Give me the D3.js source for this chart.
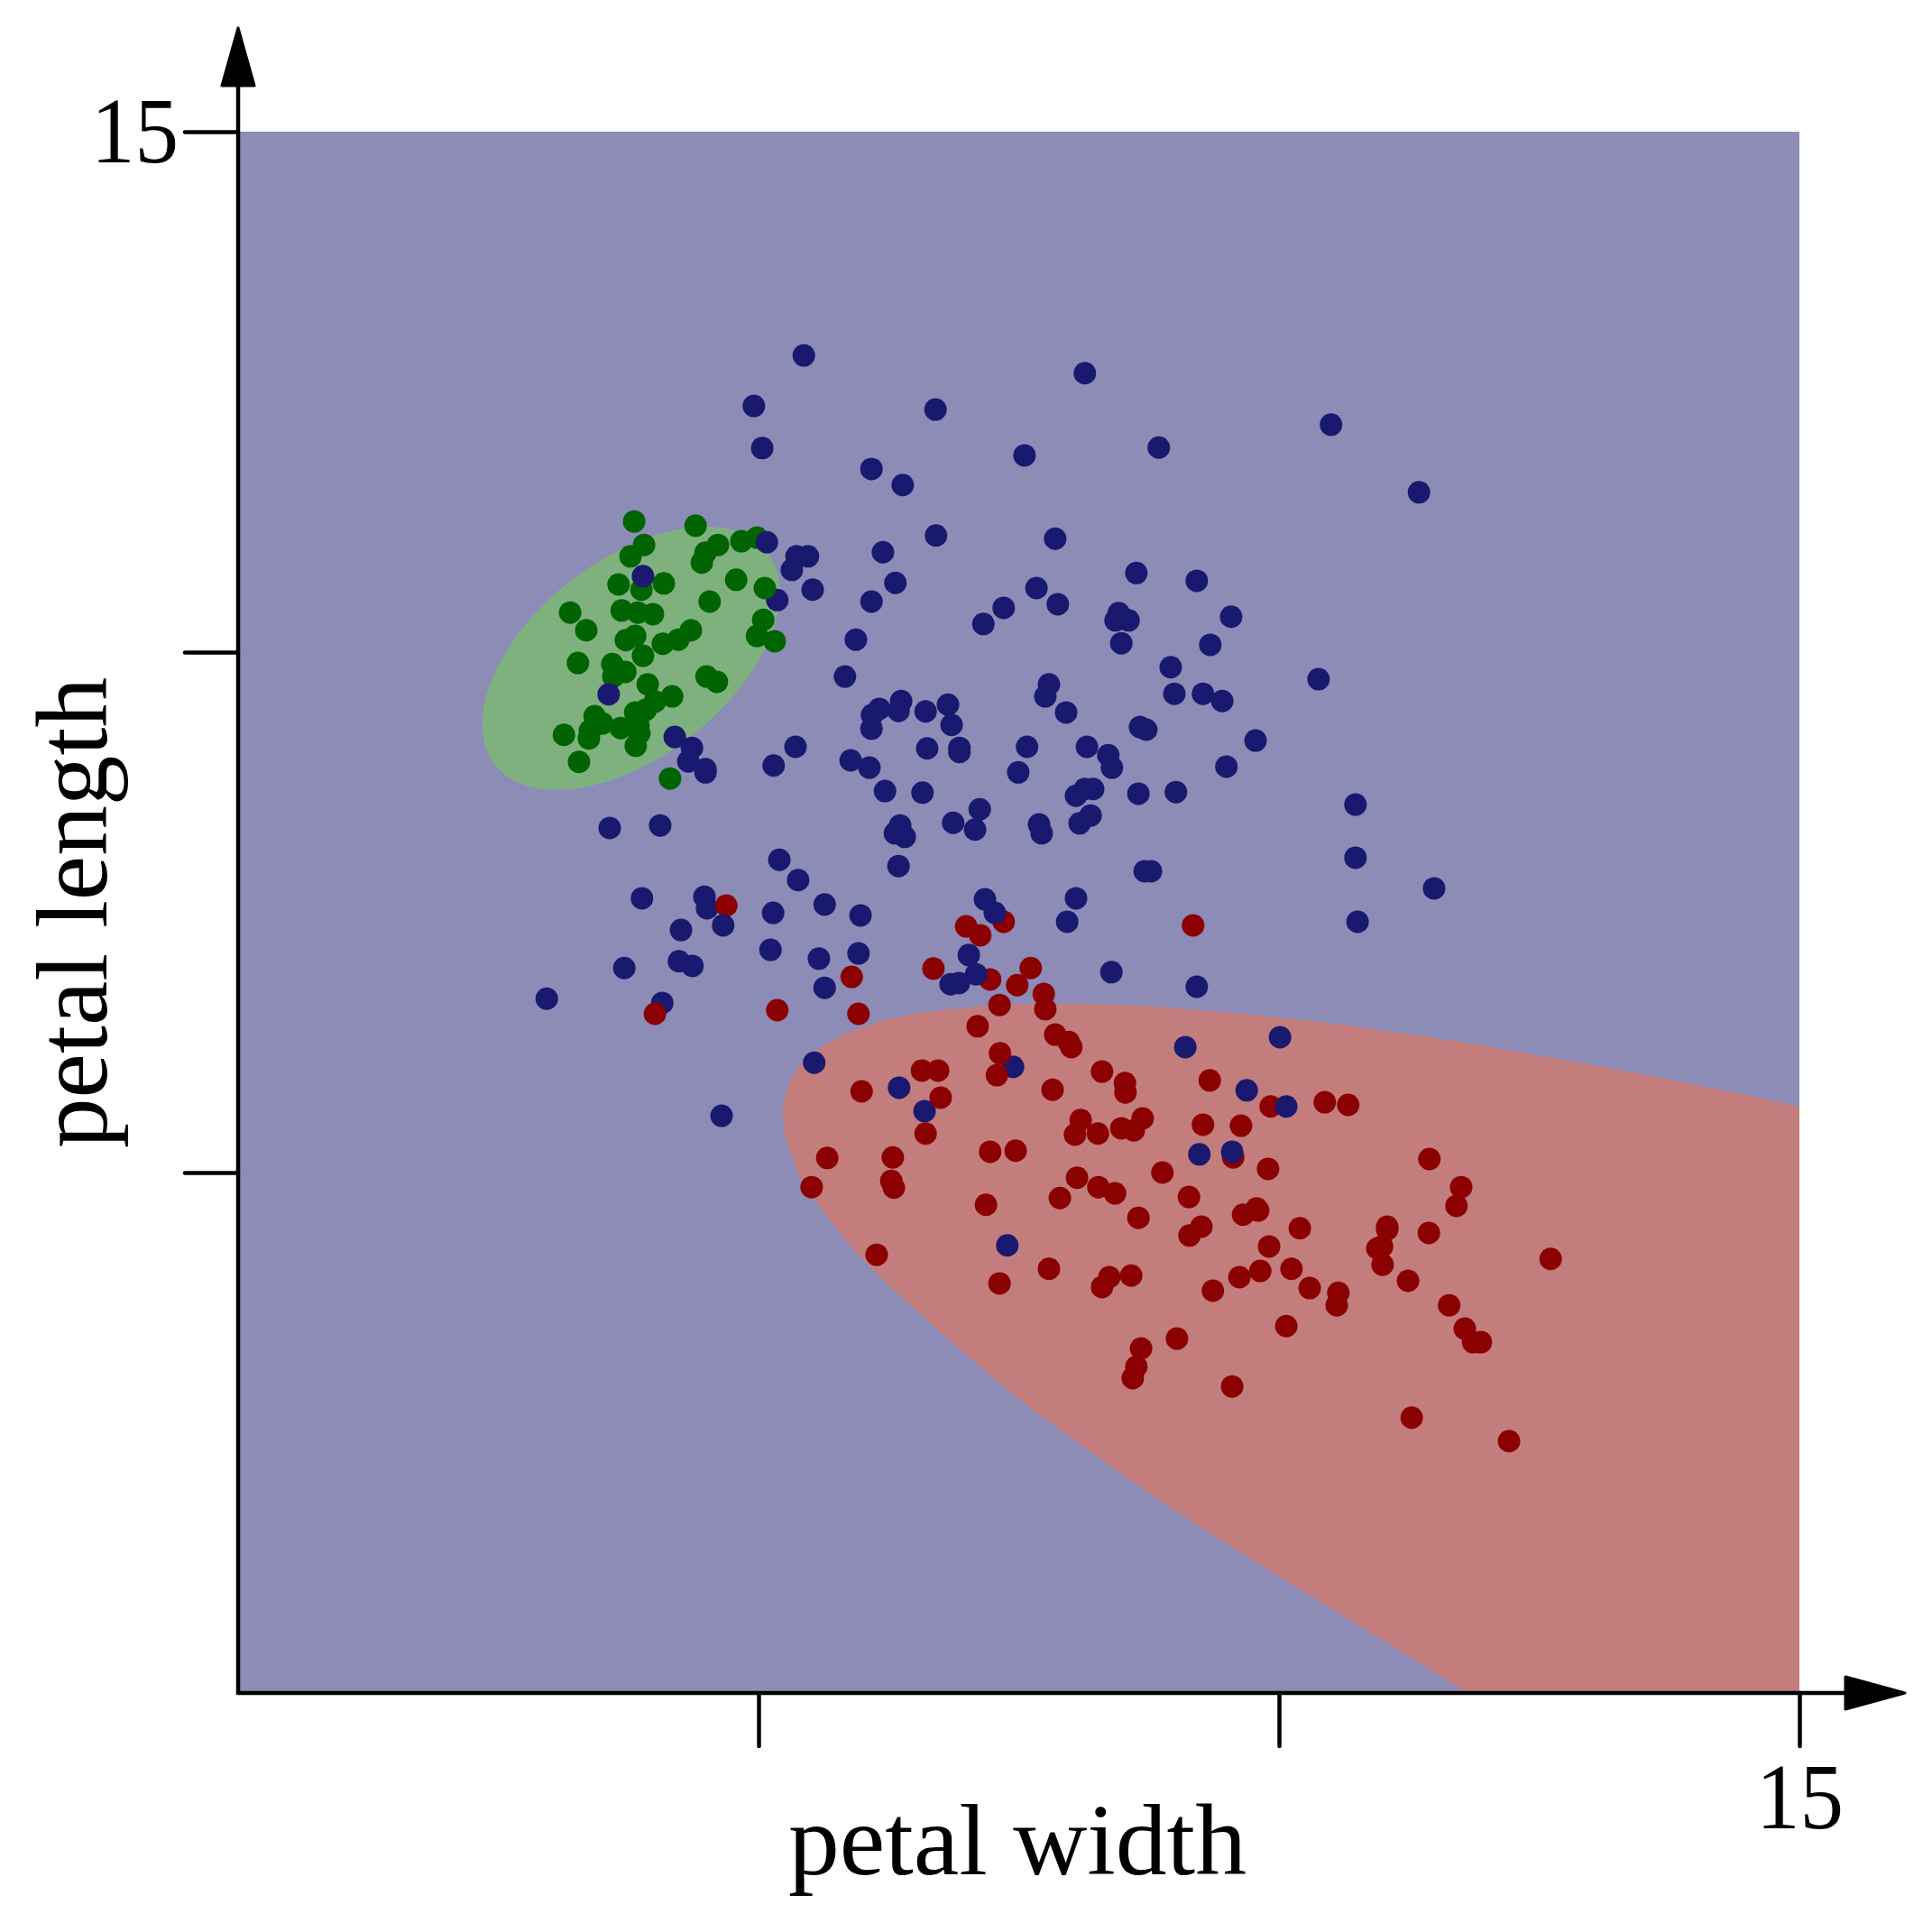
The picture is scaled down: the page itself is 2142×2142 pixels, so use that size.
<!DOCTYPE html>
<html>
<head>
<meta charset="utf-8">
<script src="https://cdn.jsdelivr.net/npm/d3@7"></script>
<style>
  body { margin: 0; background: #fff; }
  text { font-family: "Liberation Serif", serif; fill: #000; }
</style>
</head>
<body>
<svg id="chart"></svg>
<script>
// points, [petal width, petal length]
const blueUnder = [[-4.64,6.00],[-7.31,3.58],[-0.11,-2.97],[-6.04,0.30],[-5.99,0.08],[-6.85,-1.74],[-1.81,-3.82]];
const greenPoints = [[-7.39,7.51],[-6.21,7.43],[-5.03,7.20],[-5.33,7.13],[-7.20,7.06],[-7.46,6.84],[-5.78,7.06],[-6.02,6.91],[-6.09,6.72],[-5.43,6.39],[-4.88,6.23],[-6.82,6.32],[-7.69,6.30],[-7.25,6.20],[-5.94,5.97],[-8.62,5.76],[-7.63,5.80],[-7.32,5.76],[-7.03,5.73],[-4.91,5.62],[-8.31,5.42],[-7.37,5.31],[-7.55,5.23],[-6.30,5.42],[-6.54,5.24],[-6.84,5.16],[-5.03,5.31],[-4.69,5.21],[-7.22,4.93],[-8.47,4.79],[-7.81,4.77],[-7.56,4.62],[-7.79,4.53],[-6.00,4.53],[-5.80,4.43],[-7.13,4.38],[-6.66,4.15],[-6.99,4.05],[-7.17,3.89],[-7.37,3.84],[-8.15,3.77],[-8.00,3.63],[-8.24,3.49],[-7.65,3.54],[-7.32,3.63],[-7.29,3.44],[-8.74,3.41],[-8.26,3.34],[-7.36,3.20],[-8.45,2.89],[-6.70,2.57]];
const redPoints = [[3.35,-0.25],[-0.29,-0.18],[-1.01,-0.27],[-0.74,-0.44],[-1.64,-1.08],[0.23,-1.07],[-0.55,-1.29],[-0.03,-1.40],[0.48,-1.57],[0.51,-1.86],[-0.37,-1.78],[-0.79,-2.19],[-3.21,-1.24],[-3.08,-1.95],[-4.64,-1.88],[-5.62,0.13],[-6.99,-1.95],[0.70,-2.35],[0.96,-2.49],[1.01,-2.59],[-0.36,-2.71],[-0.42,-3.13],[-1.86,-3.04],[-1.55,-3.04],[-3.02,-3.44],[-1.50,-3.56],[-1.79,-4.25],[1.60,-3.06],[2.04,-3.28],[2.05,-3.46],[3.67,-3.23],[0.65,-3.41],[-3.68,-4.72],[-2.42,-4.71],[-2.45,-5.16],[-2.40,-5.29],[-3.98,-5.28],[-2.73,-6.58],[4.84,-3.73],[5.88,-3.65],[6.33,-3.70],[3.54,-4.08],[4.27,-4.10],[2.38,-3.96],[1.97,-4.15],[2.21,-4.19],[1.19,-3.99],[1.08,-4.27],[1.52,-4.25],[-0.55,-4.60],[-0.06,-4.58],[4.12,-4.71],[4.79,-4.93],[2.76,-5.00],[1.12,-5.10],[1.53,-5.28],[1.85,-5.40],[3.27,-5.47],[0.79,-5.49],[-0.63,-5.62],[2.30,-5.87],[4.31,-5.81],[4.57,-5.69],[4.60,-5.73],[3.51,-6.04],[3.28,-6.21],[5.40,-6.07],[4.81,-6.42],[5.24,-6.85],[4.64,-6.89],[4.24,-7.01],[5.59,-7.22],[3.73,-7.27],[6.14,-7.31],[6.11,-7.55],[0.58,-6.85],[-0.37,-7.13],[1.74,-7.01],[2.16,-6.98],[1.60,-7.20],[5.14,-7.95],[3.04,-8.19],[2.35,-8.38],[2.26,-8.73],[2.19,-8.95],[4.10,-9.11],[7.55,-9.71],[7.48,-7.08],[6.99,-6.77],[6.89,-6.46],[6.98,-6.42],[7.08,-6.09],[7.08,-6.04],[7.88,-6.16],[7.89,-4.74],[8.50,-5.28],[8.41,-5.64],[10.22,-6.66],[8.27,-7.55],[8.57,-8.00],[8.73,-8.26],[8.88,-8.26],[9.42,-10.16]];
const bluePoints = [[-4.13,10.70],[1.27,10.36],[-5.09,9.73],[-1.60,9.66],[6.00,9.37],[-4.93,8.92],[0.11,8.78],[2.69,8.93],[-2.83,8.52],[-2.23,8.21],[7.69,8.07],[-1.59,7.24],[0.70,7.18],[-4.84,7.11],[-2.61,6.92],[-4.27,6.84],[-4.05,6.84],[-4.36,6.58],[2.26,6.52],[3.42,6.37],[-3.96,6.20],[-2.37,6.33],[-2.83,5.97],[0.34,6.23],[0.75,5.92],[-0.29,5.85],[-0.68,5.54],[1.92,5.75],[2.11,5.61],[1.86,5.61],[4.08,5.68],[1.97,5.17],[3.68,5.14],[-3.13,5.24],[-3.34,4.53],[2.92,4.71],[5.76,4.48],[0.58,4.38],[2.99,4.20],[3.54,4.20],[3.91,4.06],[0.51,4.15],[0.91,3.84],[-2.26,4.06],[-2.68,3.91],[-2.82,3.79],[-2.31,3.87],[-1.79,3.86],[-1.36,3.99],[-1.29,3.60],[-2.83,3.53],[2.33,3.56],[2.45,3.51],[4.55,3.30],[-1.76,3.15],[-1.14,3.16],[-1.14,3.08],[0.16,3.18],[1.31,3.18],[1.72,3.02],[1.79,2.78],[3.99,2.80],[-0.01,2.69],[-2.87,2.78],[-3.23,2.92],[-2.57,2.33],[-1.85,2.30],[1.27,2.37],[1.43,2.37],[1.10,2.24],[2.30,2.28],[3.02,2.31],[-0.75,1.98],[-1.26,1.72],[-0.84,1.59],[1.38,1.86],[1.17,1.71],[0.39,1.69],[0.44,1.52],[-2.28,1.67],[-2.38,1.52],[-2.19,1.45],[-2.31,0.89],[2.42,0.79],[2.54,0.79],[-0.65,0.25],[-0.46,-0.01],[1.10,0.27],[0.93,-0.18],[-3.04,-0.06],[-3.08,-0.79],[-0.96,-0.82],[-0.82,-1.19],[-1.15,-1.36],[-1.31,-1.38],[1.78,-1.15],[3.42,-1.43],[3.20,-2.59],[5.02,-2.40],[-2.30,-3.37],[4.38,-3.42],[5.14,-3.73],[-7.22,6.46],[-7.88,4.19],[-6.61,3.37],[-6.28,3.16],[-6.35,2.90],[-6.02,2.75],[-6.02,2.69],[-4.29,3.18],[-4.71,2.82],[-7.86,1.62],[-6.89,1.67],[-4.60,1.01],[-4.24,0.62],[-7.24,0.27],[-3.73,0.15],[-5.68,-0.25],[-6.49,-0.34],[-4.72,-0.01],[-4.77,-0.72],[-3.84,-0.89],[-7.58,-1.07],[-6.53,-0.94],[-6.27,-1.03],[-3.73,-1.45],[-9.07,-1.66],[-3.93,-2.89],[-5.71,-3.91],[6.47,2.07],[6.47,1.05],[7.98,0.46],[6.51,-0.18],[3.47,-4.65],[4.10,-4.60],[-0.22,-6.40]];

// class regions in the same units
const redBoundary = [[15,-3.73],[12.49,-3.21],[10.18,-2.78],[7.93,-2.40],[5.55,-2.08],[3.13,-1.85],[2.04,-1.78],[0.82,-1.76],[-0.34,-1.78],[-1.72,-1.91],[-2.64,-2.09],[-3.67,-2.52],[-4.29,-3.06],[-4.53,-3.84],[-4.29,-4.88],[-3.51,-6.07],[-2.89,-6.78],[-1.78,-7.82],[-0.04,-9.31],[1.22,-10.25],[2.95,-11.46],[4.69,-12.57],[6.42,-13.63],[8.62,-15]];
const greenCenter = [-7.45, 4.88];
const greenAxes = [3.32, 1.89];
const greenAngle = 38;

const tickValues = [-5, 5, 15];
const domain = [-15, 15];

const size = 2142;
const left = 264, right = 1995, top_ = 146, bottom = 1877;
const radius = 12.5;

const svg = d3.select("#chart").attr("width", size).attr("height", size);

const x = d3.scaleLinear().domain(domain).range([left, right]);
const y = d3.scaleLinear().domain(domain).range([bottom, top_]);

// background class
svg.append("rect")
    .attr("x", x(-15)).attr("y", y(15))
    .attr("width", x(15) - x(-15)).attr("height", y(-15) - y(15))
    .attr("fill", "#8c8cb6");

const line = d3.line().x(d => x(d[0])).y(d => y(d[1])).curve(d3.curveCatmullRom.alpha(0.5));

svg.append("path")
    .attr("d", line(redBoundary) + `L${x(15)},${y(-15)}Z`)
    .attr("fill", "#c47d7d");

svg.append("ellipse")
    .attr("transform", `translate(${x(greenCenter[0])},${y(greenCenter[1])}) rotate(${-greenAngle})`)
    .attr("rx", x(greenAxes[0]) - x(0))
    .attr("ry", x(greenAxes[1]) - x(0))
    .attr("fill", "#7fb17f");

// points, the order keeps the overlaps of the picture
function drawPoints(data, color) {
    svg.append("g").selectAll("circle")
        .data(data)
        .enter().append("circle")
        .attr("cx", d => x(d[0]))
        .attr("cy", d => y(d[1]))
        .attr("r", radius)
        .attr("fill", color);
}
drawPoints(blueUnder, "#191970");
drawPoints(greenPoints, "#006400");
drawPoints(redPoints, "#8b0000");
drawPoints(bluePoints, "#191970");

// axes
const xAxis = d3.axisBottom(x).tickValues(tickValues).tickSize(59).tickPadding(17)
    .tickFormat(d => d === 15 ? "15" : "");
const yAxis = d3.axisLeft(y).tickValues(tickValues).tickSize(59).tickPadding(7)
    .tickFormat(d => d === 15 ? "15" : "");

const gx = svg.append("g").attr("transform", `translate(0,${bottom})`).call(xAxis);
const gy = svg.append("g").attr("transform", `translate(${left},0)`).call(yAxis);

[gx, gy].forEach(g => {
    g.select(".domain").remove();
    g.selectAll("line").attr("stroke", "#000").attr("stroke-width", 4.5).attr("stroke-linecap", "round");
    g.selectAll("text").attr("font-size", 104).attr("fill", "#000")
        .filter(d => d === 15).attr("textLength", 97).attr("lengthAdjust", "spacingAndGlyphs");
});

// axis lines with arrow heads
svg.append("line").attr("x1", left).attr("y1", bottom).attr("x2", 2060).attr("y2", bottom)
    .attr("stroke", "#000").attr("stroke-width", 4.5).attr("stroke-linecap", "round");
svg.append("line").attr("x1", left).attr("y1", bottom).attr("x2", left).attr("y2", 80)
    .attr("stroke", "#000").attr("stroke-width", 4.5).attr("stroke-linecap", "round");

svg.append("path")
    .attr("d", `M2046,${bottom - 18}L2112,${bottom}L2046,${bottom + 18}Z`)
    .attr("fill", "#000").attr("stroke", "#000").attr("stroke-width", 3).attr("stroke-linejoin", "round");
svg.append("path")
    .attr("d", `M${left - 18},95L${left},31L${left + 18},95Z`)
    .attr("fill", "#000").attr("stroke", "#000").attr("stroke-width", 3).attr("stroke-linejoin", "round");

// axis titles
svg.append("text")
    .attr("x", 1128).attr("y", 2078)
    .attr("text-anchor", "middle")
    .attr("font-size", 112)
    .attr("textLength", 508).attr("lengthAdjust", "spacingAndGlyphs")
    .text("petal width");

svg.append("text")
    .attr("transform", "translate(118,1012) rotate(-90)")
    .attr("text-anchor", "middle")
    .attr("font-size", 112)
    .attr("textLength", 522).attr("lengthAdjust", "spacingAndGlyphs")
    .text("petal length");
</script>
</body>
</html>
